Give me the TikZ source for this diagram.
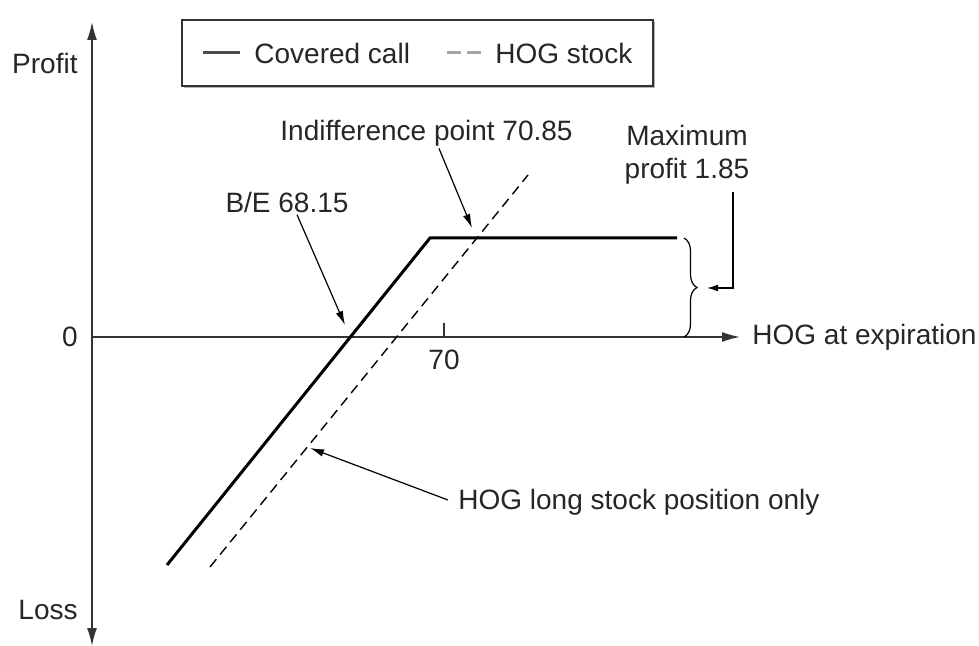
\documentclass[tikz,border=0pt]{standalone}
\usepackage{fontspec}
\setmainfont{Liberation Sans}
\usetikzlibrary{positioning,arrows.meta,decorations.pathreplacing,shadows}

\begin{document}
\begin{tikzpicture}[x=0.5pt ,y=-0.5pt ,font=\fontsize{14}{16.5}\selectfont ,text=black!85 ,axis/.style ={draw=black!80 ,line width=0.8pt ,-{Latex[length=9pt,width=5pt]}} ,call/.style ={line width=1.5pt} ,stock/.style ={line width=0.7pt ,dash pattern=on 5pt off 3pt} ,pointer/.style ={line width=0.6pt ,-{Latex[length=7pt,width=3.8pt]}} ,lbl/.style ={inner sep=1pt}]
\useasboundingbox (0,0) rectangle (979,646);
% axes
\coordinate (O) at (92,337);
\coordinate (ytop) at (92,22);
\coordinate (ybot) at (92,646);
\coordinate (xend) at (740,337);
\draw[axis] (O) -- (ytop);
\draw[axis] (O) -- (ybot);
\draw[axis] (O) -- (xend);
\node[lbl ,anchor=east] (profit) at (80,63) {Profit};
\node[lbl ,anchor=east] (loss) at (80,610) {Loss};
\node[lbl ,anchor=east] (zero) at (80,337) {0};
\node[lbl ,right = 5pt of xend] (xlabel) {HOG at expiration};
\coordinate (tick) at (444,323);
\draw[line width=0.8pt ,draw=black!80] (tick) -- (tick |- O);
\node[lbl] (seventy) at (444,360) {70};
% payoff lines
\coordinate (c1) at (167,565);
\coordinate (kink) at (430,238);
\coordinate (c2) at (677,238);
\draw[call] (c1) -- (kink) -- (c2);
\coordinate (s1) at (210,567);
\coordinate (s2) at (528,175);
\draw[stock] (s1) -- (s2);
% brace and maximum profit
\draw[line width=0.6pt ,decorate ,decoration={brace ,amplitude=6.5pt}] (684,238) -- (684,337);
\coordinate (bracetip) at (697,288);
\node[lbl ,align=center] (maxp) at (687,155) {Maximum\\profit 1.85};
\coordinate (mp) at (733,192);
\draw[pointer ,-{Latex[length=5.5pt,width=3.4pt]} ,shorten >=5pt] (mp) |- (bracetip);
% annotations
\node[lbl ,anchor=east] (indiff) at (575,133) {Indifference point 70.85};
\coordinate (ip) at (472,228);
\draw[pointer] ([xshift=-68pt]indiff.south east) -- (ip);
\node[lbl] (be) at (287,202) {B/E 68.15};
\coordinate (bep) at (345,325);
\draw[pointer] ([xshift=5pt]be.south) -- (bep);
\node[lbl ,anchor=west] (longonly) at (456,502) {HOG long stock position only};
\coordinate (lp) at (310,448);
\draw[pointer] ([xshift=-4pt,yshift=1pt]longonly.west) -- (lp);
% legend
\node[draw=black!80 ,line width=0.6pt ,fill=white ,drop shadow={shadow xshift=0.8pt ,shadow yshift=-0.8pt ,opacity=0.6} ,minimum width=235.5pt ,minimum height=33pt] (legend) at (417.5,53) {};
\node[lbl ,anchor=west] (lgcall) at (252,53) {Covered call};
\node[lbl ,anchor=west] (lgstock) at (493,53) {HOG stock};
\draw[call ,draw=black!70] ([xshift=-6pt]lgcall.west) -- ++(-37,0);
\draw[draw=black!35 ,line width=1.5pt ,dash pattern=on 7pt off 3pt] ([xshift=-6pt]lgstock.west) -- ++(-37,0);
\end{tikzpicture}
\end{document}
